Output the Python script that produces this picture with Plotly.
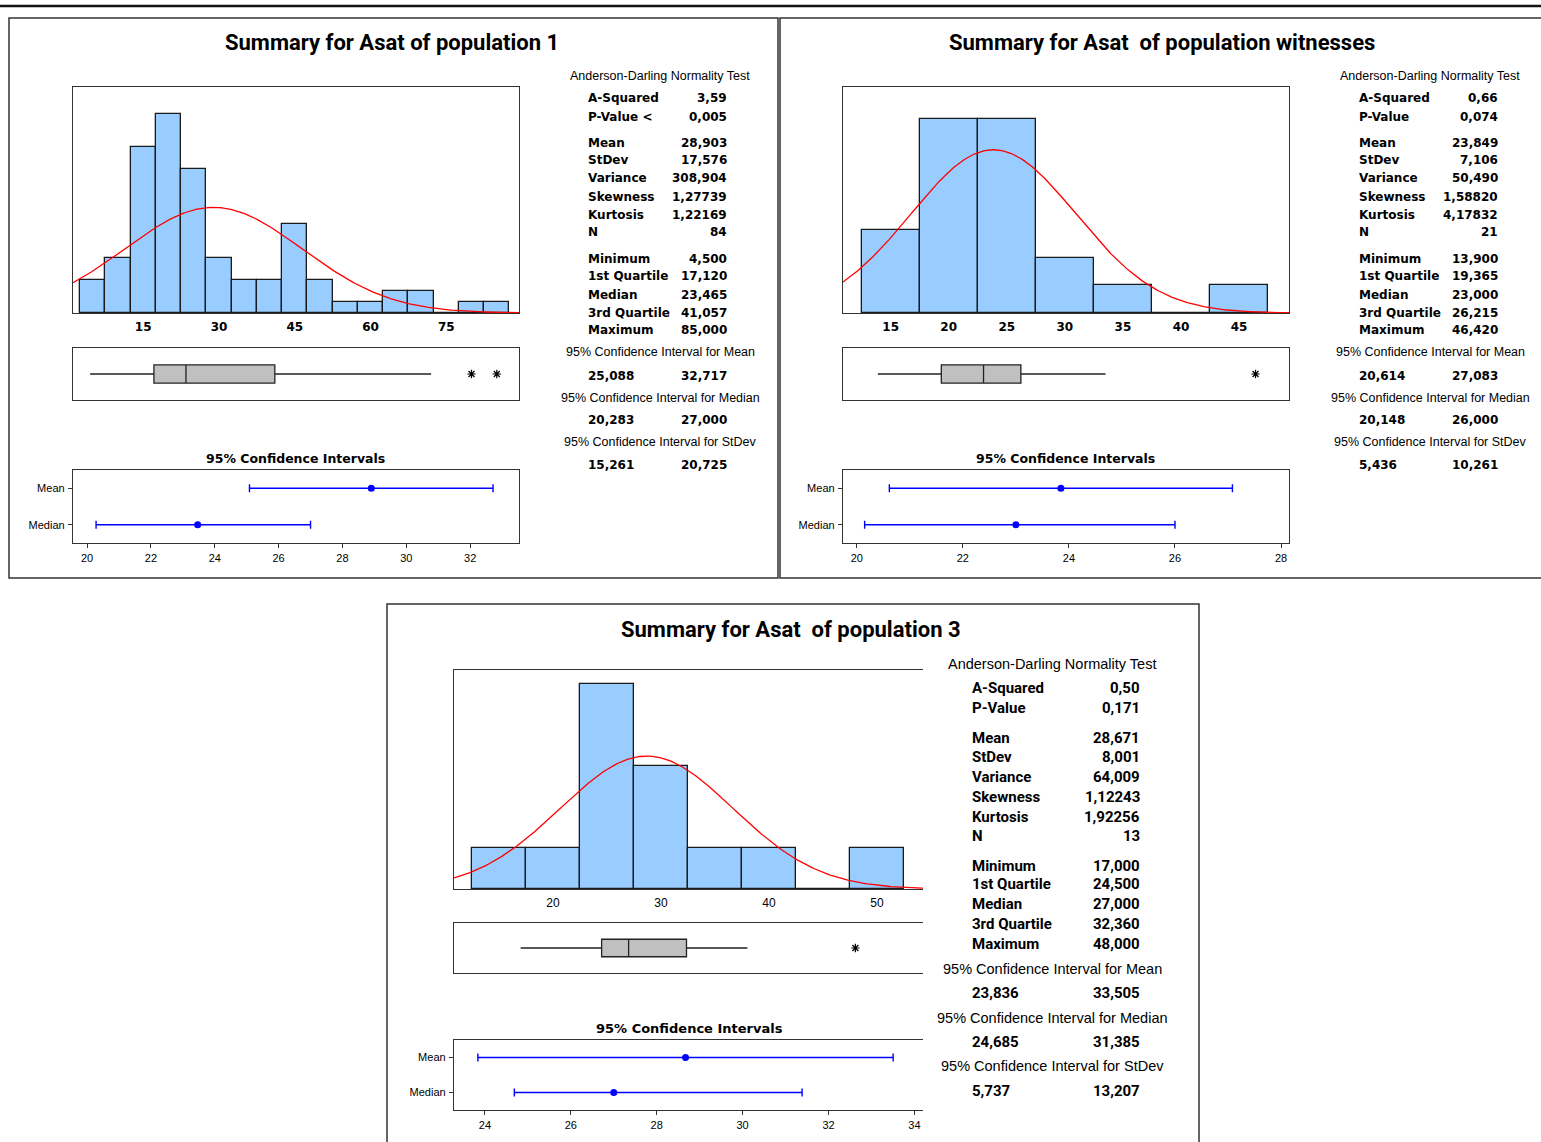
import numpy as np
import plotly.graph_objects as go

W, H = 1541, 1142

# ---------------- population 1 ----------------
p1_title = "Summary for Asat of population 1"
p1_bins = [5, 10, 15, 20, 25, 30, 35, 40, 45, 50, 55, 60, 65, 70, 75, 80, 85]
p1_counts = [3, 5, 15, 18, 13, 5, 3, 3, 8, 3, 1, 1, 2, 2, 0, 1, 1]
p1_ad = [3.59, 0.005]
p1_moments = [28.903, 17.576, 308.904, 1.27739, 1.22169, 84]
p1_five = [4.500, 17.120, 23.465, 41.057, 85.000]
p1_whisker_hi = 72.0
p1_outliers = [80.0, 85.0]
p1_ci_mean = [25.088, 32.717]
p1_ci_median = [20.283, 27.000]
p1_ci_stdev = [15.261, 20.725]
p1_hist_ticks = [15, 30, 45, 60, 75]
p1_ci_ticks = [20, 22, 24, 26, 28, 30, 32]

# ---------------- population witnesses ----------------
p2_title = "Summary for Asat\u00a0 of population witnesses"
p2_bins = [15, 20, 25, 30, 35, 40, 45]
p2_counts = [3, 7, 7, 2, 1, 0, 1]
p2_ad = [0.66, 0.074]
p2_moments = [23.849, 7.106, 50.490, 1.58820, 4.17832, 21]
p2_five = [13.900, 19.365, 23.000, 26.215, 46.420]
p2_whisker_hi = 33.5
p2_outliers = [46.42]
p2_ci_mean = [20.614, 27.083]
p2_ci_median = [20.148, 26.000]
p2_ci_stdev = [5.436, 10.261]
p2_hist_ticks = [15, 20, 25, 30, 35, 40, 45]
p2_ci_ticks = [20, 22, 24, 26, 28]

# ---------------- population 3 ----------------
p3_title = "Summary for Asat\u00a0 of population 3"
p3_bins = [15, 20, 25, 30, 35, 40, 45, 50]
p3_counts = [1, 1, 5, 3, 1, 1, 0, 1]
p3_ad = [0.50, 0.171]
p3_moments = [28.671, 8.001, 64.009, 1.12243, 1.92256, 13]
p3_five = [17.000, 24.500, 27.000, 32.360, 48.000]
p3_whisker_hi = 38.0
p3_outliers = [48.0]
p3_ci_mean = [23.836, 33.505]
p3_ci_median = [24.685, 31.385]
p3_ci_stdev = [5.737, 13.207]
p3_hist_ticks = [20, 30, 40, 50]
p3_ci_ticks = [24, 26, 28, 30, 32, 34]

bin_width = 5
ad_labels = ["A-Squared", "P-Value"]
moment_labels = ["Mean", "StDev", "Variance", "Skewness", "Kurtosis", "N"]
quartile_labels = ["Minimum", "1st Quartile", "Median", "3rd Quartile", "Maximum"]
ci_headers = ["95% Confidence Interval for Mean",
              "95% Confidence Interval for Median",
              "95% Confidence Interval for StDev"]


def fx(x):
    return x / W


def fy(y):
    return 1 - y / H


def fmt(v, d):
    return f"{v:.{d}f}".replace(".", ",")


BAR_FILL = "#99CCFF"
EDGE = "#1a1a1a"
FRAME = "#333333"

fig = go.Figure()
layout_axes = {}
annotations = []
shapes = []


def axis_key(kind, n):
    return f"{kind}axis" if n == 1 else f"{kind}axis{n}"


def ref(kind, n):
    return kind if n == 1 else f"{kind}{n}"


def add_panel(k, title, bins, counts, ad, pv_label, moments, five, whisker_hi,
              outliers, ci_mean, ci_median, ci_stdev, hist_ticks, ci_ticks, g):
    nh, nb, nc = 3 * k + 1, 3 * k + 2, 3 * k + 3
    xd = [fx(g["x0"]), fx(g["x1"])]
    right = g["right_border"]

    # histogram with fitted normal curve
    fig.add_trace(go.Bar(x=bins, y=counts, width=bin_width,
                         marker=dict(color=BAR_FILL, line=dict(color=EDGE, width=1.3)),
                         xaxis=ref("x", nh), yaxis=ref("y", nh)))
    mean, sd, n = moments[0], moments[1], moments[5]
    xs = np.linspace(g["hist_range"][0], g["hist_range"][1], 400)
    ys = n * bin_width / (sd * np.sqrt(2 * np.pi)) * np.exp(-0.5 * ((xs - mean) / sd) ** 2)
    fig.add_trace(go.Scatter(x=xs, y=ys, mode="lines", line=dict(color="#FF0000", width=1.3),
                             xaxis=ref("x", nh), yaxis=ref("y", nh)))

    layout_axes[axis_key("x", nh)] = dict(
        domain=xd, anchor=ref("y", nh), range=g["hist_range"], showgrid=False, zeroline=False,
        showline=True, mirror=True, linecolor=FRAME, linewidth=1.3, ticks="",
        tickvals=hist_ticks, tickfont=g["hist_tick_font"], ticklabelstandoff=2)
    layout_axes[axis_key("y", nh)] = dict(
        domain=[fy(g["hy"][1]), fy(g["hy"][0])], anchor=ref("x", nh), range=[0, g["hist_ymax"]],
        showgrid=False, zeroline=False, showticklabels=False, ticks="",
        showline=True, mirror=right, linecolor=FRAME, linewidth=1.3)

    # boxplot
    fig.add_trace(go.Box(y=[0], q1=[five[1]], median=[five[2]], q3=[five[3]],
                         lowerfence=[five[0]], upperfence=[whisker_hi], orientation="h",
                         width=0.7, whiskerwidth=0, fillcolor="#C0C0C0",
                         line=dict(color="#222222", width=1.3), boxpoints=False,
                         xaxis=ref("x", nb), yaxis=ref("y", nb)))
    fig.add_trace(go.Scatter(x=outliers, y=[0] * len(outliers), mode="markers",
                             marker=dict(symbol="asterisk-open", size=7, color="black",
                                         line=dict(color="black", width=1.2)),
                             xaxis=ref("x", nb), yaxis=ref("y", nb)))
    layout_axes[axis_key("x", nb)] = dict(
        domain=xd, anchor=ref("y", nb), matches=ref("x", nh), showgrid=False, zeroline=False,
        showticklabels=False, ticks="", showline=True, mirror=True, linecolor=FRAME, linewidth=1.3)
    layout_axes[axis_key("y", nb)] = dict(
        domain=[fy(g["by"][1]), fy(g["by"][0])], anchor=ref("x", nb), range=[-1, 1],
        showgrid=False, zeroline=False, showticklabels=False, ticks="",
        showline=True, mirror=right, linecolor=FRAME, linewidth=1.3)

    # confidence intervals for mean and median
    for yv, (lo, hi), pt in [(1, ci_mean, moments[0]), (0, ci_median, five[2])]:
        fig.add_trace(go.Scatter(
            x=[pt], y=[yv], mode="markers",
            marker=dict(color="#0000FF", size=7),
            error_x=dict(type="data", symmetric=False, array=[hi - pt], arrayminus=[pt - lo],
                         color="#0000FF", thickness=1.4, width=4),
            xaxis=ref("x", nc), yaxis=ref("y", nc)))
    layout_axes[axis_key("x", nc)] = dict(
        domain=xd, anchor=ref("y", nc), range=g["ci_range"], showgrid=False, zeroline=False,
        showline=True, mirror=True, linecolor=FRAME, linewidth=1.3,
        ticks="outside", ticklen=4, tickwidth=1, tickcolor=FRAME,
        tickvals=ci_ticks, tickfont=g["small_font"], ticklabelstandoff=1)
    layout_axes[axis_key("y", nc)] = dict(
        domain=[fy(g["cy"][1]), fy(g["cy"][0])], anchor=ref("x", nc), range=[-0.5, 1.5],
        showgrid=False, zeroline=False, tickvals=[1, 0], ticktext=["Mean", "Median"],
        ticks="outside", ticklen=4, tickwidth=1, tickcolor=FRAME, tickfont=g["small_font"],
        showline=True, mirror=right, linecolor=FRAME, linewidth=1.3, ticklabelstandoff=1)

    def text(x, y, s, font, xanchor="left"):
        annotations.append(dict(x=fx(x), y=fy(y), xref="paper", yref="paper", text=s,
                                showarrow=False, xanchor=xanchor, yanchor="middle",
                                font=font, borderpad=0))

    text(g["title_xy"][0], g["title_xy"][1], f"<b>{title}</b>", g["title_font"], "center")
    text(g["ci_title_xy"][0], g["ci_title_xy"][1], "<b>95% Confidence Intervals</b>",
         g["ci_title_font"], "center")

    # statistics column
    lx, vx, cx = g["label_x"], g["value_x"], g["header_cx"]
    bold, plain = g["bold_font"], g["plain_font"]
    text(cx, g["ad_header_y"], "Anderson-Darling Normality Test", plain, "center")
    labels = [ad_labels[0], pv_label] + moment_labels + quartile_labels
    values = ([fmt(ad[0], 2), fmt(ad[1], 3)]
              + [fmt(moments[0], 3), fmt(moments[1], 3), fmt(moments[2], 3),
                 fmt(moments[3], 5), fmt(moments[4], 5), str(int(moments[5]))]
              + [fmt(v, 3) for v in five])
    for lab, val, yy in zip(labels, values, g["row_y"]):
        text(lx, yy, f"<b>{lab}</b>", bold, "left")
        text(vx, yy, f"<b>{val}</b>", bold, "right")
    for hdr, (lo, hi), hy, vy in zip(ci_headers, [ci_mean, ci_median, ci_stdev],
                                     g["ci_header_y"], g["ci_value_y"]):
        text(cx, hy, hdr, plain, "center")
        text(lx, vy, f"<b>{fmt(lo, 3)}</b>", bold, "left")
        text(vx, vy, f"<b>{fmt(hi, 3)}</b>", bold, "right")


TITLE_FONT = dict(family="Roboto, sans-serif", size=22, color="black")
BOLD12 = dict(family="DejaVu Sans, Verdana, sans-serif", size=12, color="black")
PLAIN12 = dict(family="Liberation Sans, Arial, sans-serif", size=12.5, color="black")
SMALL = dict(family="Liberation Sans, sans-serif", size=11, color="black")
HIST_BOLD = dict(family="DejaVu Sans, Verdana, sans-serif", size=12, color="black", weight="bold")

rows_top = [98, 117, 143, 160, 178, 197, 215, 232, 259, 276, 295, 313, 330]

geom1 = dict(x0=73, x1=519, hy=(87, 313), by=(348, 400), cy=(470, 543),
             hist_range=[1.1, 89.4], hist_ymax=20.4, ci_range=[19.56, 33.53], right_border=True,
             hist_tick_font=HIST_BOLD, small_font=SMALL, title_font=TITLE_FONT,
             title_xy=(392, 43), ci_title_xy=(295, 458), ci_title_font=dict(BOLD12, size=12.5),
             label_x=587, value_x=728, header_cx=660, bold_font=BOLD12, plain_font=PLAIN12,
             ad_header_y=76, row_y=rows_top, ci_header_y=[352, 398, 442], ci_value_y=[376, 420, 465])
geom2 = dict(geom1, x0=843, x1=1289, hist_range=[10.9, 49.3], hist_ymax=8.16,
             ci_range=[19.74, 28.15], title_xy=(1162, 43), ci_title_xy=(1065, 458),
             label_x=1358, value_x=1499, header_cx=1430)
geom3 = dict(x0=454, x1=923, hy=(670, 889), by=(923, 973), cy=(1040, 1110),
             hist_range=[10.83, 54.26], hist_ymax=5.34, ci_range=[23.28, 34.2], right_border=False,
             hist_tick_font=dict(family="Liberation Sans, Arial, sans-serif", size=12, color="black"),
             small_font=SMALL, title_font=TITLE_FONT, title_xy=(791, 629),
             ci_title_xy=(689, 1028), ci_title_font=dict(BOLD12, size=13),
             label_x=971, value_x=1141, header_cx=1052,
             bold_font=dict(family="Roboto, sans-serif", size=15, color="black"),
             plain_font=dict(family="Liberation Sans, Arial, sans-serif", size=14.5, color="black"),
             ad_header_y=664, row_y=[688, 708, 738, 757, 777, 797, 817, 836, 866, 884, 904, 924, 944],
             ci_header_y=[969, 1018, 1066], ci_value_y=[993, 1042, 1091])

add_panel(0, p1_title, p1_bins, p1_counts, p1_ad, "P-Value <", p1_moments, p1_five,
          p1_whisker_hi, p1_outliers, p1_ci_mean, p1_ci_median, p1_ci_stdev,
          p1_hist_ticks, p1_ci_ticks, geom1)
add_panel(1, p2_title, p2_bins, p2_counts, p2_ad, "P-Value", p2_moments, p2_five,
          p2_whisker_hi, p2_outliers, p2_ci_mean, p2_ci_median, p2_ci_stdev,
          p2_hist_ticks, p2_ci_ticks, geom2)
add_panel(2, p3_title, p3_bins, p3_counts, p3_ad, "P-Value", p3_moments, p3_five,
          p3_whisker_hi, p3_outliers, p3_ci_mean, p3_ci_median, p3_ci_stdev,
          p3_hist_ticks, p3_ci_ticks, geom3)

# page rule and panel frames
shapes.append(dict(type="line", xref="paper", yref="paper", x0=0, x1=1,
                   y0=fy(6), y1=fy(6), line=dict(color="#111111", width=2.5)))
for (x0, y0, x1, y1) in [(9, 18, 778, 578), (780, 18, 1560, 578), (387, 604, 1199, 1160)]:
    shapes.append(dict(type="rect", xref="paper", yref="paper",
                       x0=fx(x0), x1=fx(x1), y0=fy(y1), y1=fy(y0),
                       line=dict(color=FRAME, width=1.5), fillcolor="rgba(0,0,0,0)"))

fig.update_layout(
    width=W, height=H, margin=dict(l=0, r=0, t=0, b=0),
    paper_bgcolor="white", plot_bgcolor="white", showlegend=False,
    bargap=0, annotations=annotations, shapes=shapes, **layout_axes)

fig.write_html("out.html")
